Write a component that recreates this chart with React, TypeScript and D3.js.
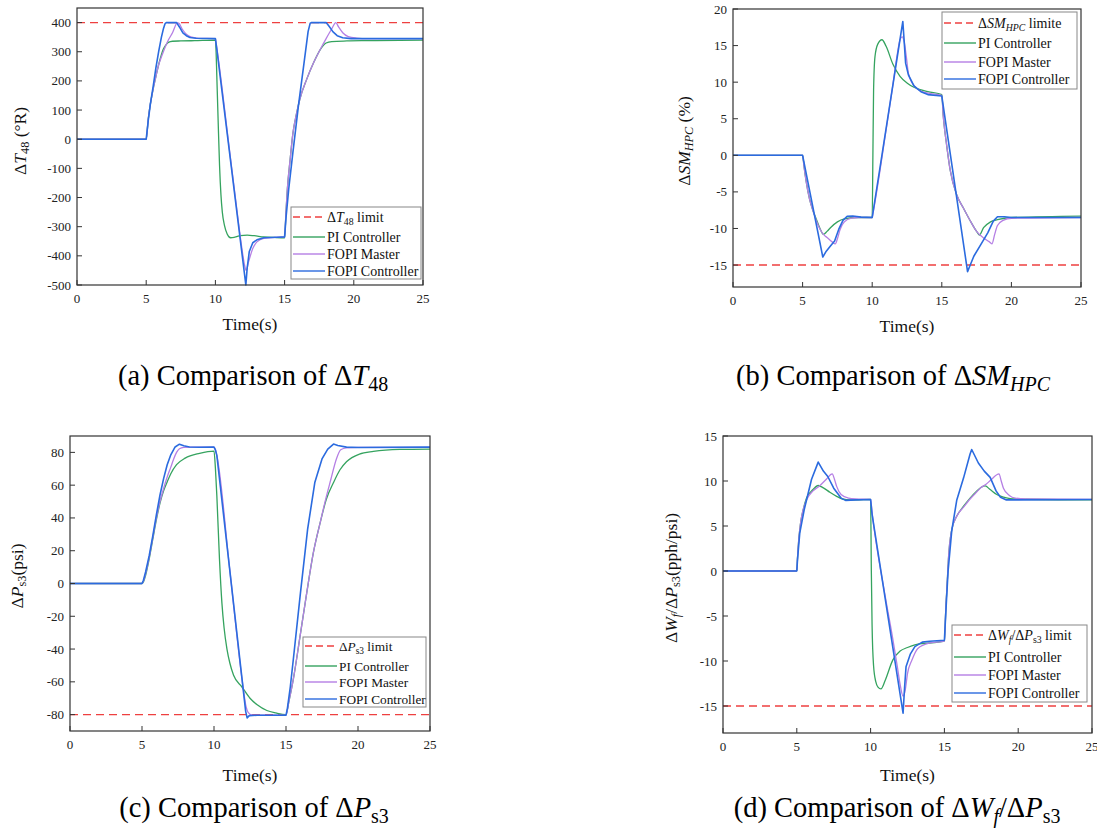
import React from "react";
import * as d3 from "d3";

type Pt = [number, number];
type Part = { t: string; i?: boolean; s?: boolean };

const timeTicks = [0, 5, 10, 15, 20, 25];
const seriesNames = ["PI Controller", "FOPI Master", "FOPI Controller"];

// (a) ΔT48 (°R)
const t48Ticks = [-500, -400, -300, -200, -100, 0, 100, 200, 300, 400];
const t48Limit = 400;
const t48PI: Pt[] = [[0,0],[5,0],[5.15,70],[5.3,120],[5.5,172],[5.7,215],[5.88,252],[6.05,282],[6.24,309],[6.4,322],[6.6,332],[6.9,336],[7.5,337],[8.5,338],[10,340],[10.05,300],[10.1,220],[10.2,60],[10.3,-90],[10.4,-190],[10.5,-250],[10.65,-295],[10.85,-325],[11.1,-338],[11.4,-336],[11.8,-331],[12.3,-329],[12.8,-331],[13.5,-335],[14.3,-337],[15,-338],[15.1,-250],[15.2,-170],[15.4,-70],[15.6,20],[15.85,85],[16.1,137],[16.6,206],[17.1,263],[17.6,309],[18.0,330],[18.4,335],[19.5,337],[21,338],[25,340]];
const t48Master: Pt[] = [[0,0],[5,0],[5.15,70],[5.3,120],[5.5,172],[5.7,215],[5.88,252],[6.05,276],[6.24,300],[6.6,340],[6.9,365],[7.25,399],[7.35,398],[7.6,378],[7.9,360],[8.3,350],[8.8,346],[10,345],[10.05,330],[11.0,-30],[11.6,-260],[11.9,-370],[12.1,-430],[12.22,-450],[12.4,-420],[12.7,-375],[13.0,-352],[13.5,-340],[14.5,-336],[15,-335],[15.1,-250],[15.2,-170],[15.4,-70],[15.6,20],[15.85,85],[16.1,137],[16.6,206],[17.1,263],[17.6,310],[18.0,345],[18.4,378],[18.7,400],[18.9,385],[19.2,365],[19.6,352],[20.2,347],[21,345],[25,345]];
const t48FOPI: Pt[] = [[0,0],[5,0],[5.15,65],[5.3,120],[5.51,183],[5.7,245],[5.9,300],[6.1,350],[6.25,380],[6.36,396],[6.45,400],[7.2,400],[7.4,385],[7.65,365],[7.9,355],[8.16,349],[8.6,346],[10,345],[10.1,310],[12.2,-500],[12.3,-440],[12.45,-385],[12.7,-355],[13.0,-345],[13.5,-338],[14.5,-336],[15,-335],[15.1,-270],[15.3,-170],[15.6,-45],[16.0,115],[16.4,260],[16.7,370],[16.85,398],[16.95,400],[18.0,400],[18.2,388],[18.5,368],[18.8,355],[19.2,348],[19.8,345],[25,345]];

// (b) ΔSM_HPC (%)
const smTicks = [-15, -10, -5, 0, 5, 10, 15, 20];
const smLimit = -15;
const smPI: Pt[] = [[0,0],[5,0],[5.1,-1.5],[5.25,-3.5],[5.5,-6],[5.75,-7.6],[6.0,-8.8],[6.25,-10],[6.5,-10.8],[6.75,-10.4],[7.0,-9.9],[7.5,-9.1],[8.0,-8.7],[9.0,-8.5],[10,-8.5],[10.05,0],[10.1,9],[10.2,13.5],[10.4,15.2],[10.7,15.8],[11.0,14.9],[11.5,12.4],[12.0,10.8],[12.5,9.9],[13.0,9.3],[14.0,8.7],[15,8.3],[15.1,5.5],[15.2,3.6],[15.3,2.1],[15.6,-2],[16.07,-5.4],[16.55,-7.2],[17.0,-8.8],[17.5,-10.4],[17.7,-10.9],[18.0,-9.9],[18.5,-9.1],[19.0,-8.8],[20,-8.5],[25,-8.3]];
const smMaster: Pt[] = [[0,0],[5,0],[5.1,-1.5],[5.25,-3.5],[5.5,-6],[5.75,-7.6],[6.0,-9],[6.25,-10.1],[6.5,-10.8],[6.8,-11.3],[7.1,-11.8],[7.35,-12.1],[7.5,-11.4],[7.7,-10.1],[8.0,-9.1],[8.5,-8.6],[9,-8.5],[10,-8.5],[10.05,-8],[11.0,3.5],[11.5,9.8],[11.8,13.8],[12.0,15.8],[12.15,16.2],[12.3,15.5],[12.45,13.5],[12.6,11.2],[12.9,9.8],[13.3,9],[14,8.5],[15,8.2],[15.1,5.5],[15.2,3.6],[15.3,2.1],[15.6,-2],[16.07,-5.4],[16.55,-7.2],[17.0,-8.8],[17.5,-10.4],[18.0,-11.3],[18.4,-11.8],[18.6,-12.1],[18.8,-10.8],[19.0,-9.6],[19.4,-8.9],[20,-8.6],[25,-8.5]];
const smFOPI: Pt[] = [[0,0],[5,0],[6.45,-13.9],[6.7,-13.1],[7.0,-12.4],[7.3,-11.7],[7.6,-10.1],[7.9,-8.9],[8.2,-8.35],[8.6,-8.3],[9.2,-8.45],[10,-8.5],[12.2,18.3],[12.3,15.5],[12.4,12.6],[12.6,11],[13,9.5],[13.5,8.7],[14,8.3],[15,8.1],[16.85,-15.9],[17.0,-15.2],[17.3,-13.8],[17.8,-12.2],[18.3,-10.6],[18.7,-9],[19.0,-8.4],[19.5,-8.4],[20,-8.5],[25,-8.5]];

// (c) ΔPs3 (psi)
const ps3Ticks = [-80, -60, -40, -20, 0, 20, 40, 60, 80];
const ps3Limit = -80;
const ps3PI: Pt[] = [[0,0],[5,0],[5.1,1],[5.25,5],[5.5,15],[5.75,27],[6.0,39],[6.25,49],[6.5,56.5],[6.75,62],[7.0,67],[7.4,72.5],[8.0,76.5],[9.0,79.4],[10,80.8],[10.1,70],[10.2,53],[10.38,15],[10.55,-12],[10.7,-27],[10.9,-40],[11.1,-48.5],[11.36,-56],[11.93,-63],[12.5,-70],[13.0,-74],[13.67,-77.5],[14.3,-79],[15,-80],[15.2,-72],[15.5,-58.8],[15.98,-32],[16.44,-5.7],[16.9,18.8],[17.37,37],[17.8,51.4],[18.3,61.6],[18.75,69.4],[19.2,74.3],[20.1,79],[21.07,80.6],[22.9,81.8],[25,82]];
const ps3Master: Pt[] = [[0,0],[5,0],[5.1,1.5],[5.25,6],[5.5,16],[5.75,28],[6.0,40],[6.25,50],[6.5,58],[6.75,65],[7.0,71],[7.2,76],[7.4,80],[7.6,82.2],[7.9,83],[8.5,83.2],[10,83.2],[10.1,81.5],[10.2,78],[11.1,8],[12.0,-62],[12.2,-74],[12.4,-79],[12.6,-80.2],[13,-80.4],[15,-80.3],[15.2,-72],[15.5,-58.8],[15.98,-32],[16.44,-5.7],[16.9,18.8],[17.37,37],[17.8,53],[18.1,63],[18.5,76],[18.8,81.6],[19.2,82.8],[20,83.1],[25,83]];
const ps3FOPI: Pt[] = [[0,0],[5,0],[5.1,2],[5.25,7],[5.5,17],[5.75,29],[6.0,42],[6.25,54],[6.5,64],[6.75,72.5],[7.0,78.5],[7.3,83.3],[7.6,85],[7.9,84],[8.3,83.3],[9,83.1],[10,83.2],[10.1,81.5],[10.2,78],[12.2,-78],[12.3,-82],[12.45,-80.6],[13,-80.4],[15,-80.3],[15.1,-76],[15.3,-63],[15.5,-47],[16,-6],[16.5,33],[17,61.6],[17.5,76],[17.9,82],[18.3,85.1],[18.6,84.2],[19.2,83.2],[20,83],[25,83.2]];

// (d) ΔWf/ΔPs3 (pph/psi)
const wfTicks = [-15, -10, -5, 0, 5, 10, 15];
const wfLimit = -15;
const wfPI: Pt[] = [[0,0],[5,0],[5.05,1.5],[5.1,2.8],[5.2,4.6],[5.3,5.8],[5.43,6.8],[5.66,8.1],[6.1,9.05],[6.45,9.5],[6.8,9.24],[7.24,8.75],[7.7,8.3],[8.1,8.0],[8.6,7.9],[9.0,7.9],[10,7.95],[10.05,0],[10.1,-6],[10.2,-10.5],[10.35,-12.3],[10.5,-12.9],[10.7,-13.1],[11.0,-12.1],[11.5,-9.9],[12.0,-8.9],[12.5,-8.5],[13.0,-8.2],[14,-8],[15,-7.8],[15.1,-4],[15.2,-1],[15.27,1.25],[15.5,4.6],[15.84,6.1],[16.3,7.2],[16.74,8.1],[17.2,8.9],[17.5,9.3],[17.76,9.45],[18.1,9.05],[18.55,8.5],[19.0,8.2],[19.45,8.05],[19.9,8.0],[25,7.9]];
const wfMaster: Pt[] = [[0,0],[5,0],[5.05,1.5],[5.1,2.8],[5.2,4.6],[5.3,5.8],[5.43,6.8],[5.66,7.9],[6.1,8.9],[6.5,9.4],[7.0,10.2],[7.4,10.8],[7.55,10.2],[7.7,9.4],[8,8.5],[8.5,8.1],[9,8.0],[10,7.95],[10.1,6.5],[11,-2.9],[11.5,-7.5],[11.8,-10.5],[12.0,-12.6],[12.2,-13.9],[12.35,-13.2],[12.5,-11.4],[12.8,-9.9],[13.2,-8.6],[14,-8.0],[15,-7.8],[15.1,-4],[15.2,-1],[15.27,1.25],[15.5,4.6],[15.84,6.1],[16.3,7.1],[16.74,8.0],[17.2,8.8],[17.5,9.3],[17.8,9.6],[18.2,10.2],[18.7,10.8],[18.85,10.0],[19.0,9.2],[19.4,8.4],[19.8,8.1],[20.5,8.0],[25,7.95]];
const wfFOPI: Pt[] = [[0,0],[5,0],[5.05,1.3],[5.2,4.2],[5.5,6.8],[6.0,10.2],[6.45,12.1],[6.8,11.1],[7.1,10.5],[7.5,9.2],[8,8.1],[8.3,7.85],[9,7.9],[10,7.95],[10.1,6.3],[12.2,-15.8],[12.3,-13],[12.4,-10.65],[12.7,-9.2],[13,-8.4],[13.5,-7.9],[14,-7.8],[15,-7.7],[15.1,-4.5],[15.25,0],[15.5,4.5],[15.84,7.9],[16.3,10.35],[16.74,13],[16.85,13.5],[17.3,12.0],[17.7,11.1],[18.1,10.4],[18.5,8.9],[18.8,8.2],[19.2,7.9],[20,7.9],[25,7.95]];

const COLORS = ["#35a35f", "#b57fe4", "#2b6bdf"];
const LIMIT_COLOR = "#ee4040";
const FONT = "'Liberation Serif', 'Times New Roman', serif";

// text with italic / subscript pieces
function Rich({ parts, size }: { parts: Part[]; size: number }) {
  let down = false;
  return (
    <>
      {parts.map((p, k) => {
        let dy: number | undefined;
        if (p.s && !down) { dy = size * 0.22; down = true; }
        else if (!p.s && down) { dy = -size * 0.22; down = false; }
        return (
          <tspan key={k} dy={dy} fontSize={p.s ? size * 0.7 : size} fontStyle={p.i ? "italic" : "normal"}>
            {p.t}
          </tspan>
        );
      })}
    </>
  );
}

const panels = [
  {
    left: 77, right: 423, top: 8, bottom: 285, yDomain: [-500, 450], yTicks: t48Ticks, limit: t48Limit,
    series: [t48PI, t48Master, t48FOPI],
    yLabel: [{ t: "Δ" }, { t: "T", i: true }, { t: "48", s: true }, { t: " (°R)" }],
    yLabelPos: [20, 141], timeY: 324,
    legend: { x: 291, y: 207, w: 130, h: 72, rows: [217, 237, 254, 271], size: 14 },
    limitName: [{ t: "Δ" }, { t: "T", i: true }, { t: "48", s: true }, { t: " limit" }],
    caption: [{ t: "(a) Comparison of Δ" }, { t: "T", i: true }, { t: "48", s: true }],
    capPos: [253, 385],
  },
  {
    left: 733, right: 1081, top: 9, bottom: 287, yDomain: [-18, 20], yTicks: smTicks, limit: smLimit,
    series: [smPI, smMaster, smFOPI],
    yLabel: [{ t: "Δ" }, { t: "SM", i: true }, { t: "HPC", i: true, s: true }, { t: " (%)" }],
    yLabelPos: [684, 141], timeY: 326,
    legend: { x: 942, y: 12, w: 135, h: 77, rows: [23, 43, 62, 79], size: 14 },
    limitName: [{ t: "Δ" }, { t: "SM", i: true }, { t: "HPC", i: true, s: true }, { t: " limite" }],
    caption: [{ t: "(b) Comparison of Δ" }, { t: "SM", i: true }, { t: "HPC", i: true, s: true }],
    capPos: [893, 385],
  },
  {
    left: 70, right: 430, top: 436, bottom: 731, yDomain: [-90, 90], yTicks: ps3Ticks, limit: ps3Limit,
    series: [ps3PI, ps3Master, ps3FOPI],
    yLabel: [{ t: "Δ" }, { t: "P", i: true }, { t: "s3", s: true }, { t: "(psi)" }],
    yLabelPos: [17, 576], timeY: 775,
    legend: { x: 303, y: 637, w: 123, h: 70, rows: [646, 666, 682, 699], size: 13.3 },
    limitName: [{ t: "Δ" }, { t: "P", i: true }, { t: "s3", s: true }, { t: " limit" }],
    caption: [{ t: "(c) Comparison of Δ" }, { t: "P", i: true }, { t: "s3", s: true }],
    capPos: [254, 817],
  },
  {
    left: 723, right: 1092, top: 436, bottom: 733, yDomain: [-18, 15], yTicks: wfTicks, limit: wfLimit,
    series: [wfPI, wfMaster, wfFOPI],
    yLabel: [{ t: "Δ" }, { t: "W", i: true }, { t: "f", i: true, s: true }, { t: "/Δ" }, { t: "P", i: true }, { t: "s3", s: true }, { t: "(pph/psi)" }],
    yLabelPos: [671, 578], timeY: 775,
    legend: { x: 952, y: 625, w: 135, h: 77, rows: [635, 657, 675, 693], size: 14 },
    limitName: [{ t: "Δ" }, { t: "W", i: true }, { t: "f", i: true, s: true }, { t: "/Δ" }, { t: "P", i: true }, { t: "s3", s: true }, { t: " limit" }],
    caption: [{ t: "(d) Comparison of Δ" }, { t: "W", i: true }, { t: "f", i: true, s: true }, { t: "/Δ" }, { t: "P", i: true }, { t: "s3", s: true }],
    capPos: [897, 817],
  },
];

function Panel({ p }: { p: any }) {
  const x = d3.scaleLinear().domain([0, 25]).range([p.left, p.right]);
  const y = d3.scaleLinear().domain(p.yDomain).range([p.bottom, p.top]);
  // smooth curves for PI / FOPI Master, straight segments for the FOPI Controller
  const smooth = d3.line<Pt>().x((d) => x(d[0])).y((d) => y(d[1])).curve(d3.curveMonotoneX);
  const straight = d3.line<Pt>().x((d) => x(d[0])).y((d) => y(d[1]));
  const lg = p.legend;
  const ink = "#333";

  return (
    <g fontFamily={FONT}>
      {/* limit + series */}
      <line x1={x(0)} x2={x(25)} y1={y(p.limit)} y2={y(p.limit)} stroke={LIMIT_COLOR} strokeWidth={1.4} strokeDasharray="8,5" />
      {p.series.map((s: Pt[], k: number) => (
        <path key={k} d={(k === 2 ? straight(s) : smooth(s)) || ""} fill="none" stroke={COLORS[k]}
          strokeWidth={k === 2 ? 1.6 : 1.3} strokeLinejoin="round" />
      ))}

      {/* frame */}
      <rect x={p.left} y={p.top} width={p.right - p.left} height={p.bottom - p.top} fill="none" stroke={ink} strokeWidth={1.2} />

      {/* x ticks */}
      {timeTicks.map((t) => (
        <g key={"x" + t}>
          <line x1={x(t)} x2={x(t)} y1={p.bottom} y2={p.bottom - 5} stroke={ink} strokeWidth={1} />
          <text x={x(t)} y={p.bottom + 18} textAnchor="middle" fontSize={13} fill="#222">{t}</text>
        </g>
      ))}
      {/* y ticks */}
      {p.yTicks.map((v: number) => (
        <g key={"y" + v}>
          <line x1={p.left} x2={p.left + 5} y1={y(v)} y2={y(v)} stroke={ink} strokeWidth={1} />
          <text x={p.left - 6} y={y(v)} dy="0.35em" textAnchor="end" fontSize={13} fill="#222">{v}</text>
        </g>
      ))}

      <text x={(p.left + p.right) / 2} y={p.timeY} dy="0.35em" textAnchor="middle" fontSize={17.5} fill="#111">Time(s)</text>
      <text transform={`translate(${p.yLabelPos[0]},${p.yLabelPos[1]}) rotate(-90)`} textAnchor="middle" dy="0.35em" fill="#111">
        <Rich parts={p.yLabel} size={17.5} />
      </text>

      {/* legend */}
      <rect x={lg.x} y={lg.y} width={lg.w} height={lg.h} fill="white" stroke="#888" strokeWidth={1} />
      {lg.rows.map((ry: number, k: number) => (
        <g key={"l" + k}>
          <line x1={lg.x + 2} x2={lg.x + 34} y1={ry} y2={ry}
            stroke={k === 0 ? LIMIT_COLOR : COLORS[k - 1]} strokeWidth={1.4}
            strokeDasharray={k === 0 ? "7,4" : undefined} />
          <text x={lg.x + 36} y={ry} dy="0.33em" fill="#111">
            {k === 0 ? <Rich parts={p.limitName} size={lg.size} /> : <tspan fontSize={lg.size}>{seriesNames[k - 1]}</tspan>}
          </text>
        </g>
      ))}

      <text x={p.capPos[0]} y={p.capPos[1]} textAnchor="middle" fill="#000">
        <Rich parts={p.caption} size={28.5} />
      </text>
    </g>
  );
}

export default function App() {
  return (
    <svg width={1097} height={840} style={{ position: "absolute", left: 0, top: 0, background: "white" }}>
      <rect width={1097} height={840} fill="white" />
      {panels.map((p, k) => <Panel key={k} p={p} />)}
    </svg>
  );
}
